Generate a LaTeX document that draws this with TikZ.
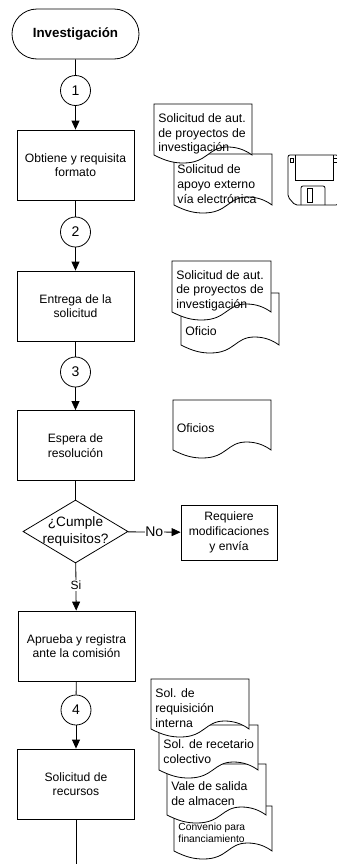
\documentclass[tikz,border=0pt]{standalone}
\usepackage{fontspec}
\setmainfont{Liberation Sans}
\usetikzlibrary{arrows.meta,shapes.geometric,shapes.misc}
\tikzset{
  every path/.style={line width=0.6pt},
  proc/.style={draw,fill=white,minimum width=87.75pt,minimum height=52.5pt,inner sep=0pt,align=center,font=\fontsize{9.1}{11}\selectfont},
  conn/.style={draw,circle,fill=white,minimum size=22.5pt,inner sep=0pt,font=\fontsize{10.5}{12}\selectfont},
  flow/.style={-{Triangle[length=6.75pt,width=6pt]}},
  doctext/.style={anchor=west,align=left,inner sep=0pt,font=\fontsize{9.2}{11}\selectfont},
}
% #1 left, #2 top, #3 wave start, #4 width
\newcommand{\docsheet}[4]{
  \draw[fill=white] (#1,#3) -- (#1,#2) -- ({#1+#4},#2) -- ({#1+#4},#3)
    .. controls ({#1+.93*#4},{#3-5}) and ({#1+.85*#4},{#3-8}) .. ({#1+.75*#4},{#3-8})
    .. controls ({#1+.55*#4},{#3-8}) and ({#1+.55*#4},{#3+8}) .. ({#1+.3*#4},{#3+8})
    .. controls ({#1+.2*#4},{#3+8}) and ({#1+.12*#4},{#3+6}) .. (#1,#3) -- cycle;
}
\begin{document}
\begin{tikzpicture}[x=0.75pt,y=-0.75pt]
   \useasboundingbox (0,0) rectangle (336,864);
   % main column
   \node[draw,rounded rectangle,minimum width=95.25pt,minimum height=37.5pt,inner sep=0pt,font=\fontsize{10}{12}\bfseries\selectfont] (start) at (75.5,34) {Investigación};
   \node[conn] (c1) at (75.5,90.5) {1};
   \node[proc] (obtiene) at (75.5,165) {Obtiene y requisita\\formato};
   \node[conn] (c2) at (75.5,232) {2};
   \node[proc] (entrega) at (75.5,306) {Entrega de la\\solicitud};
   \node[conn] (c3) at (75.5,372) {3};
   \node[proc] (espera) at (75.5,445.5) {Espera de\\resolución};
   \node[draw,diamond,minimum width=78.75pt,minimum height=47.25pt,inner sep=0pt,aspect=1.67] (cumple) at (75.5,531.5) {};
   \node[align=center,inner sep=0pt,font=\fontsize{10.2}{12.4}\selectfont] (cumpletxt) at (cumple) {¿Cumple\\requisitos?};
   \node[proc,minimum width=72pt,minimum height=41.25pt] (requiere) at (229,532.5) {Requiere\\modificaciones\\y envía};
   \node[proc] (aprueba) at (76.5,646) {Aprueba y registra\\ante la comisión};
   \node[conn] (c4) at (76,710) {4};
   \node[proc] (recursos) at (76,784) {Solicitud de\\recursos};
   \coordinate (salida) at (76,864);
   \draw (start) -- (c1);
   \draw[flow] (c1) -- (obtiene);
   \draw (obtiene) -- (c2);
   \draw[flow] (c2) -- (entrega);
   \draw (entrega) -- (c3);
   \draw[flow] (c3) -- (espera);
   \draw (espera) -- (cumple);
   \draw[flow] (cumple) -- node[fill=white,inner sep=0.5pt,font=\fontsize{10.5}{12}\selectfont] (no) {No} (requiere);
   \draw[flow] (cumple) -- node[fill=white,inner sep=1pt,pos=0.47,font=\fontsize{9}{11}\selectfont] (si) {Si} (aprueba);
   \draw (aprueba) -- (c4);
   \draw[flow] (c4) -- (recursos);
   \draw (recursos) -- (salida);
   % documents, first step
   \docsheet{174}{154}{205}{98}
   \docsheet{154}{104}{155}{98}
   \node[doctext] (sol1) at (158,134) {Solicitud de aut.\\de proyectos de\\investigación};
   \node[doctext] (apoyo) at (177,184) {Solicitud de\\apoyo externo\\vía electrónica};
   % floppy
   \draw[rounded corners=1.5pt] (288,155) -- (338,155) -- (338,205) -- (295,205) -- (288,197) -- cycle;
   \draw (295,155) -- (295,180) -- (333,180) -- (333,155);
   \draw (290,158) rectangle (293,162);
   \draw (333,158) rectangle (338,162);
   \draw[rounded corners=1.5pt] (301,205) -- (301,186) -- (325,186) -- (325,205);
   \draw (307,188) rectangle (312,202);
   % documents, second step
   \docsheet{181}{293}{345}{98}
   \docsheet{172}{261}{312}{99}
   \node[doctext] (sol2) at (176,290.5) {Solicitud de aut.\\de proyectos de\\investigación};
   \node[doctext] (oficio) at (185,331) {Oficio};
   % third step
   \docsheet{173}{400}{450}{98}
   \node[doctext] (oficios) at (176.5,428) {Oficios};
   % documents, last step
   \docsheet{174}{806}{851}{98}
   \docsheet{167}{764}{815}{99}
   \docsheet{159}{725}{770}{99}
   \docsheet{151}{679}{729}{98}
   \node[doctext] (requis) at (155,708) {Sol. de\\requisición\\interna};
   \node[doctext] (recetario) at (163,751.5) {Sol. de recetario\\colectivo};
   \node[doctext] (vale) at (171,793.5) {Vale de salida\\de almacen};
   \node[doctext,font=\fontsize{7.7}{9.3}\selectfont] (convenio) at (178,833) {Convenio para\\financiamiento};
  \end{tikzpicture}
\end{document}
